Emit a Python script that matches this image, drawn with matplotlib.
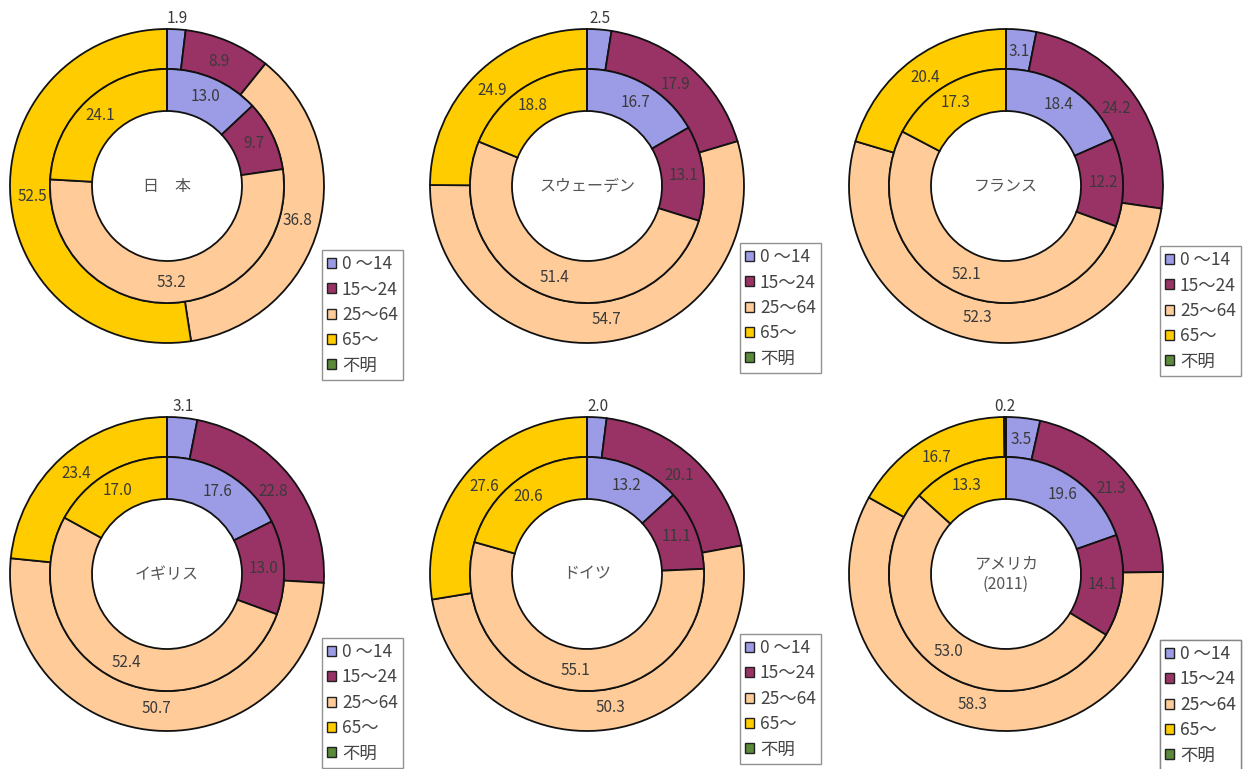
import numpy as np
import matplotlib.pyplot as plt
from matplotlib.patches import Patch

plt.rcParams['font.family'] = ['Noto Sans CJK JP', 'DejaVu Sans']

groups = ['0 ～14', '15～24', '25～64', '65～', '不明']
colors = ['#9c9ce6', '#993366', '#ffcc99', '#ffcc00', '#5a8a3a']

countries = ['日　本', 'スウェーデン', 'フランス', 'イギリス', 'ドイツ', 'アメリカ\n(2011)']

# outer ring / inner ring, order: 0-14, 15-24, 25-64, 65-, unknown
outer = [
    [1.9, 8.9, 36.8, 52.5, 0.0],
    [2.5, 17.9, 54.7, 24.9, 0.0],
    [3.1, 24.2, 52.3, 20.4, 0.0],
    [3.1, 22.8, 50.7, 23.4, 0.0],
    [2.0, 20.1, 50.3, 27.6, 0.0],
    [3.5, 21.3, 58.3, 16.7, 0.2],
]
inner = [
    [13.0, 9.7, 53.2, 24.1, 0.0],
    [16.7, 13.1, 51.4, 18.8, 0.0],
    [18.4, 12.2, 52.1, 17.3, 0.0],
    [17.6, 13.0, 52.4, 17.0, 0.0],
    [13.2, 11.1, 55.1, 20.6, 0.0],
    [19.6, 14.1, 53.0, 13.3, 0.0],
]
# outer slices whose label sits outside the ring
outside = [[0], [0], [], [0], [0], [4]]

W, H = 1248, 769
centers = [(167, 186), (587, 186), (1006, 186),
           (167, 574), (587, 574), (1006, 574)]
legend_pos = [(322, 250), (740, 243), (1160, 246),
              (322, 638), (740, 634), (1160, 640)]

R_out, R_mid, R_in = 157, 117, 75

fig = plt.figure(figsize=(W / 100, H / 100), dpi=100)
ax = fig.add_axes([0, 0, 1, 1])

txt_col = '#3a3a3a'


def put_labels(wedges, vals, r, out_idx):
    for i, (w, v) in enumerate(zip(wedges, vals)):
        if v <= 0:
            continue
        ang = np.deg2rad((w.theta1 + w.theta2) / 2)
        rr = r
        if i in out_idx:
            rr = R_out + 11
        x = w.center[0] + rr * np.cos(ang)
        y = w.center[1] + rr * np.sin(ang)
        ax.text(x, y, f'{v:.1f}', ha='center', va='center',
                fontsize=11, color=txt_col)


handles = [Patch(facecolor=c, edgecolor='#222222', linewidth=1) for c in colors]

for k in range(6):
    cx, cy = centers[k]
    cy = H - cy
    wo, _ = ax.pie(outer[k], colors=colors, startangle=90, counterclock=False,
                   radius=R_out, center=(cx, cy),
                   wedgeprops=dict(width=R_out - R_mid, edgecolor='#111111', linewidth=1.3))
    wi, _ = ax.pie(inner[k], colors=colors, startangle=90, counterclock=False,
                   radius=R_mid, center=(cx, cy),
                   wedgeprops=dict(width=R_mid - R_in, edgecolor='#111111', linewidth=1.3))
    put_labels(wo, outer[k], 0.86 * R_out, outside[k])
    put_labels(wi, inner[k], (R_mid + R_in) / 2 + 1, [])
    ax.text(cx, cy, countries[k], ha='center', va='center', fontsize=11.5,
            color='#555555', linespacing=1.3)

    lx, ly = legend_pos[k]
    leg = ax.legend(handles, groups, loc='upper left',
                    bbox_to_anchor=(lx, H - ly), bbox_transform=ax.transData,
                    fontsize=12.5, frameon=True, fancybox=False,
                    edgecolor='#777777', borderpad=0.3, labelspacing=0.42,
                    handlelength=0.5, handleheight=0.5, handletextpad=0.35,
                    borderaxespad=0, labelcolor='#444444')
    leg.get_frame().set_linewidth(1.0)
    ax.add_artist(leg)

ax.set_xlim(0, W)
ax.set_ylim(0, H)
ax.set_aspect('equal')
ax.axis('off')

fig.savefig('out.png', dpi=100)
